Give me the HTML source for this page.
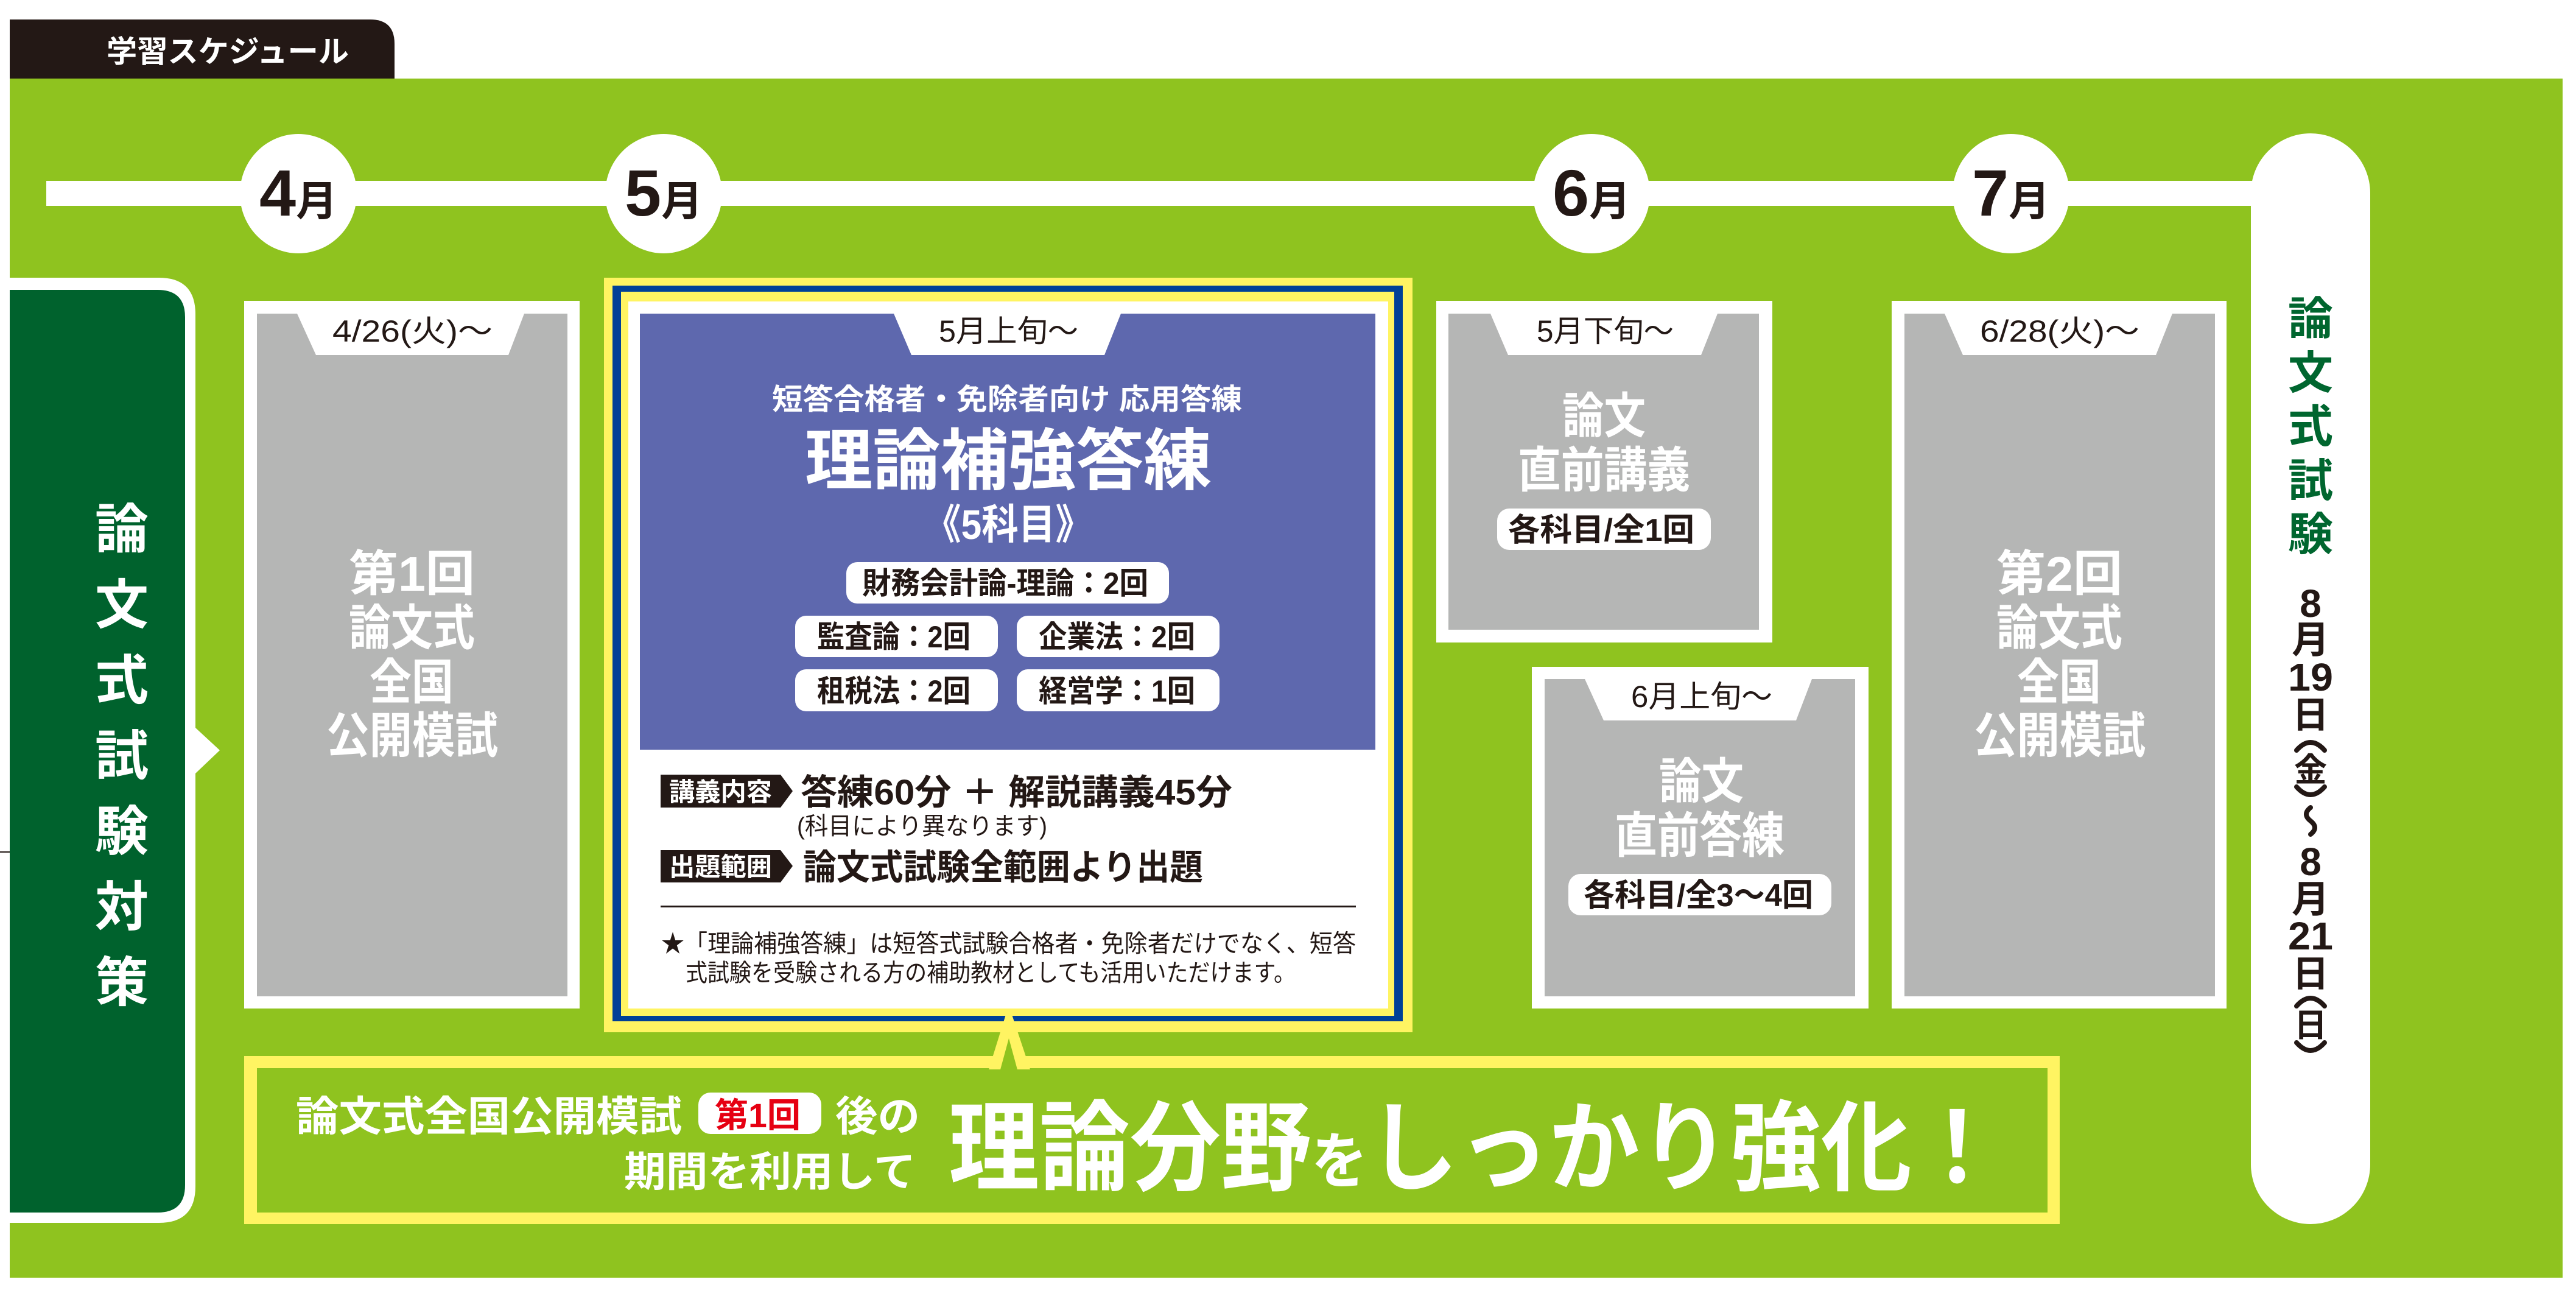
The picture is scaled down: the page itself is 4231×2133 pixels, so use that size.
<!DOCTYPE html>
<html><head><meta charset="utf-8"><style>
html,body{margin:0;padding:0;background:#fff;width:4231px;height:2133px;overflow:hidden}
svg{display:block}
text{font-family:"Liberation Sans","Noto Sans CJK JP",sans-serif;font-weight:bold}
.n{font-weight:normal}
</style></head><body>
<svg width="4231" height="2133" viewBox="0 0 4231 2133" xmlns="http://www.w3.org/2000/svg">
<rect width="4231" height="2133" fill="#fff"/>
<!-- tab -->
<path d="M16 129 V32 H608 Q648 32 648 72 V129 Z" fill="#231815"/>
<text x="175" y="102" font-size="50" fill="#fff" textLength="398" lengthAdjust="spacingAndGlyphs">学習スケジュール</text>
<!-- green -->
<rect x="16" y="129" width="4193" height="1969" fill="#8fc31f"/>
<!-- timeline -->
<rect x="76" y="297" width="3640" height="41" fill="#fff"/>
<g fill="#fff">
<ellipse cx="490" cy="318" rx="96" ry="98"/>
<ellipse cx="1090" cy="318" rx="96" ry="98"/>
<ellipse cx="2614" cy="318" rx="96" ry="98"/>
<ellipse cx="3303" cy="318" rx="96" ry="98"/>
</g>
<g fill="#231815" text-anchor="middle">
<text x="490" y="354"><tspan font-size="108">4</tspan><tspan font-size="68">月</tspan></text>
<text x="1090" y="354"><tspan font-size="108">5</tspan><tspan font-size="68">月</tspan></text>
<text x="2614" y="354"><tspan font-size="108">6</tspan><tspan font-size="68">月</tspan></text>
<text x="3303" y="354"><tspan font-size="108">7</tspan><tspan font-size="68">月</tspan></text>
</g>
<!-- end pill -->
<rect x="3697" y="219" width="196" height="1791" rx="98" fill="#fff"/>
<g fill="#00662f" font-size="74" text-anchor="middle">
<text x="3795" y="549">論</text>
<text x="3795" y="638">文</text>
<text x="3795" y="726">式</text>
<text x="3795" y="815">試</text>
<text x="3795" y="903">験</text>
</g>
<g fill="#231815" text-anchor="middle">
<text x="3795" y="1013" font-size="64">8</text>
<text x="3795" y="1072" font-size="62">月</text>
<text x="3795" y="1134" font-size="64" textLength="74" lengthAdjust="spacingAndGlyphs">19</text>
<text x="3795" y="1195" font-size="60">日</text>
<text x="3795" y="1283" font-size="54">金</text>
<text x="3795" y="1437" font-size="64">8</text>
<text x="3795" y="1498" font-size="62">月</text>
<text x="3795" y="1559" font-size="64" textLength="74" lengthAdjust="spacingAndGlyphs">21</text>
<text x="3795" y="1620" font-size="60">日</text>
<text x="3795" y="1702" font-size="54">日</text>
</g>
<g stroke="#231815" stroke-width="8" fill="none" stroke-linecap="round">
<path d="M3772 1232 Q3795 1206 3818 1232"/>
<path d="M3772 1292 Q3795 1318 3818 1292"/>
<path d="M3795 1326 q-14 11 0 22 q14 11 0 22"/>
<path d="M3772 1652 Q3795 1626 3818 1652"/>
<path d="M3772 1712 Q3795 1738 3818 1712"/>
</g>
<!-- left box -->
<path d="M16 456 H261 Q321 456 321 516 V1195 L361 1232 L321 1270 V1948 Q321 2008 261 2008 H16 Z" fill="#fff"/>
<path d="M16 476 H259 Q304 476 304 521 V1946 Q304 1991 259 1991 H16 Z" fill="#00622d"/>
<g fill="#fff" font-size="88" text-anchor="middle">
<text x="200" y="900">論</text>
<text x="200" y="1024">文</text>
<text x="200" y="1148">式</text>
<text x="200" y="1272">試</text>
<text x="200" y="1396">験</text>
<text x="200" y="1520">対</text>
<text x="200" y="1644">策</text>
</g>
<!-- box1 -->
<rect x="401" y="494" width="551" height="1162" fill="#fff"/>
<rect x="422" y="515" width="510" height="1121" fill="#b5b6b5"/>
<polygon points="488,515 861,515 835,583 519,583" fill="#fff"/>
<text class="n" x="546" y="561" font-size="50" fill="#231815" textLength="263" lengthAdjust="spacingAndGlyphs" style="font-weight:normal">4/26(火)〜</text>
<g fill="#fff" font-size="80">
<text x="573" y="970" textLength="207" lengthAdjust="spacingAndGlyphs">第1回</text>
<text x="573" y="1059" textLength="207" lengthAdjust="spacingAndGlyphs">論文式</text>
<text x="607" y="1148" textLength="138" lengthAdjust="spacingAndGlyphs">全国</text>
<text x="536" y="1236" textLength="282" lengthAdjust="spacingAndGlyphs">公開模試</text>
</g>
<!-- central box -->
<rect x="992" y="456" width="1328" height="1239" fill="#fff462"/>
<rect x="1006" y="469" width="1298" height="1208" fill="#004097"/>
<rect x="1020" y="479" width="1270" height="1189" fill="#fff462"/>
<rect x="1032" y="495" width="1248" height="1161" fill="#fff"/>
<rect x="1051" y="515" width="1208" height="716" fill="#5e68ae"/>
<polygon points="1468,515 1841,515 1814,583 1497,583" fill="#fff"/>
<text x="1542" y="561" font-size="50" fill="#231815" textLength="229" lengthAdjust="spacingAndGlyphs" style="font-weight:normal">5月上旬〜</text>
<g fill="#fff">
<text x="1268" y="672" font-size="48" textLength="772" lengthAdjust="spacingAndGlyphs">短答合格者・免除者向け 応用答練</text>
<text x="1322" y="795" font-size="110" textLength="668" lengthAdjust="spacingAndGlyphs">理論補強答練</text>
<text x="1518" y="885" font-size="68" textLength="276" lengthAdjust="spacingAndGlyphs">《5科目》</text>
</g>
<g fill="#fff">
<rect x="1390" y="923" width="530" height="68" rx="18"/>
<rect x="1306" y="1011" width="333" height="68" rx="18"/>
<rect x="1670" y="1011" width="333" height="68" rx="18"/>
<rect x="1306" y="1099" width="333" height="69" rx="18"/>
<rect x="1670" y="1099" width="333" height="69" rx="18"/>
</g>
<g fill="#231815" font-size="50">
<text x="1416" y="975" textLength="470" lengthAdjust="spacingAndGlyphs">財務会計論-理論：2回</text>
<text x="1342" y="1063" textLength="252" lengthAdjust="spacingAndGlyphs">監査論：2回</text>
<text x="1706" y="1063" textLength="257" lengthAdjust="spacingAndGlyphs">企業法：2回</text>
<text x="1342" y="1152" textLength="252" lengthAdjust="spacingAndGlyphs">租税法：2回</text>
<text x="1706" y="1152" textLength="257" lengthAdjust="spacingAndGlyphs">経営学：1回</text>
</g>
<polygon points="1085,1272 1282,1272 1302,1299 1282,1326 1085,1326" fill="#231815"/>
<text x="1099" y="1315" font-size="42" fill="#fff" textLength="169" lengthAdjust="spacingAndGlyphs">講義内容</text>
<text x="1315" y="1321" font-size="58" fill="#231815" textLength="709" lengthAdjust="spacingAndGlyphs">答練60分 ＋ 解説講義45分</text>
<text x="1309" y="1370" font-size="40" fill="#231815" textLength="411" lengthAdjust="spacingAndGlyphs" style="font-weight:normal">(科目により異なります)</text>
<polygon points="1085,1396 1282,1396 1302,1422 1282,1449 1085,1449" fill="#231815"/>
<text x="1099" y="1438" font-size="42" fill="#fff" textLength="169" lengthAdjust="spacingAndGlyphs">出題範囲</text>
<text x="1319" y="1444" font-size="58" fill="#231815" textLength="657" lengthAdjust="spacingAndGlyphs">論文式試験全範囲より出題</text>
<rect x="1085" y="1487" width="1142" height="3" fill="#231815"/>
<text x="1086" y="1563" font-size="40" fill="#231815" textLength="1141" lengthAdjust="spacingAndGlyphs" style="font-weight:normal">★「理論補強答練」は短答式試験合格者・免除者だけでなく、短答</text>
<text x="1126" y="1611" font-size="40" fill="#231815" textLength="1002" lengthAdjust="spacingAndGlyphs" style="font-weight:normal">式試験を受験される方の補助教材としても活用いただけます。</text>
<!-- speech box -->
<rect x="401" y="1734" width="2982" height="276" fill="#fff462"/>
<rect x="422" y="1754" width="2941" height="237" fill="#8fc31f"/>
<polygon points="1624,1756 1652,1666 1662,1666 1692,1756" fill="#fff462"/>
<polygon points="1642,1760 1657,1705 1672,1760" fill="#8fc31f"/>
<g fill="#fff">
<text x="486" y="1857" font-size="68" textLength="634" lengthAdjust="spacingAndGlyphs">論文式全国公開模試</text>
<rect x="1147" y="1794" width="202" height="68" rx="20"/>
<text x="1372" y="1857" font-size="68" textLength="139" lengthAdjust="spacingAndGlyphs">後の</text>
<text x="1025" y="1948" font-size="68" textLength="479" lengthAdjust="spacingAndGlyphs">期間を利用して</text>
<text x="1558" y="1942" font-size="162" textLength="1731" lengthAdjust="spacingAndGlyphs">理論分野<tspan font-size="100">を</tspan>しっかり強化！</text>
</g>
<text x="1174" y="1851" font-size="56" fill="#e60012" textLength="141" lengthAdjust="spacingAndGlyphs">第1回</text>
<!-- box 5月下旬 -->
<rect x="2359" y="494" width="552" height="561" fill="#fff"/>
<rect x="2379" y="515" width="510" height="519" fill="#b5b6b5"/>
<polygon points="2448,515 2821,515 2794,583 2477,583" fill="#fff"/>
<text x="2524" y="561" font-size="50" fill="#231815" textLength="225" lengthAdjust="spacingAndGlyphs" style="font-weight:normal">5月下旬〜</text>
<g fill="#fff" font-size="80">
<text x="2566" y="711" textLength="137" lengthAdjust="spacingAndGlyphs">論文</text>
<text x="2493" y="800" textLength="283" lengthAdjust="spacingAndGlyphs">直前講義</text>
</g>
<rect x="2459" y="835" width="351" height="68" rx="20" fill="#fff"/>
<text x="2477" y="888" font-size="52" fill="#231815" textLength="306" lengthAdjust="spacingAndGlyphs">各科目/全1回</text>
<!-- box 6月上旬 -->
<rect x="2516" y="1095" width="553" height="561" fill="#fff"/>
<rect x="2537" y="1115" width="510" height="521" fill="#b5b6b5"/>
<polygon points="2603,1115 2976,1115 2950,1183 2634,1183" fill="#fff"/>
<text x="2679" y="1161" font-size="50" fill="#231815" textLength="232" lengthAdjust="spacingAndGlyphs" style="font-weight:normal">6月上旬〜</text>
<g fill="#fff" font-size="80">
<text x="2725" y="1311" textLength="139" lengthAdjust="spacingAndGlyphs">論文</text>
<text x="2652" y="1400" textLength="279" lengthAdjust="spacingAndGlyphs">直前答練</text>
</g>
<rect x="2576" y="1435" width="432" height="68" rx="20" fill="#fff"/>
<text x="2601" y="1488" font-size="52" fill="#231815" textLength="377" lengthAdjust="spacingAndGlyphs">各科目/全3〜4回</text>
<!-- box 7月 -->
<rect x="3107" y="494" width="550" height="1162" fill="#fff"/>
<rect x="3128" y="515" width="510" height="1121" fill="#b5b6b5"/>
<polygon points="3194,515 3568,515 3541,583 3224,583" fill="#fff"/>
<text x="3252" y="561" font-size="50" fill="#231815" textLength="262" lengthAdjust="spacingAndGlyphs" style="font-weight:normal">6/28(火)〜</text>
<g fill="#fff" font-size="80">
<text x="3279" y="970" textLength="207" lengthAdjust="spacingAndGlyphs">第2回</text>
<text x="3279" y="1059" textLength="207" lengthAdjust="spacingAndGlyphs">論文式</text>
<text x="3313" y="1148" textLength="138" lengthAdjust="spacingAndGlyphs">全国</text>
<text x="3242" y="1236" textLength="282" lengthAdjust="spacingAndGlyphs">公開模試</text>
</g>
<rect x="0" y="1398" width="16" height="2" fill="#231815"/>
</svg>
</body></html>
